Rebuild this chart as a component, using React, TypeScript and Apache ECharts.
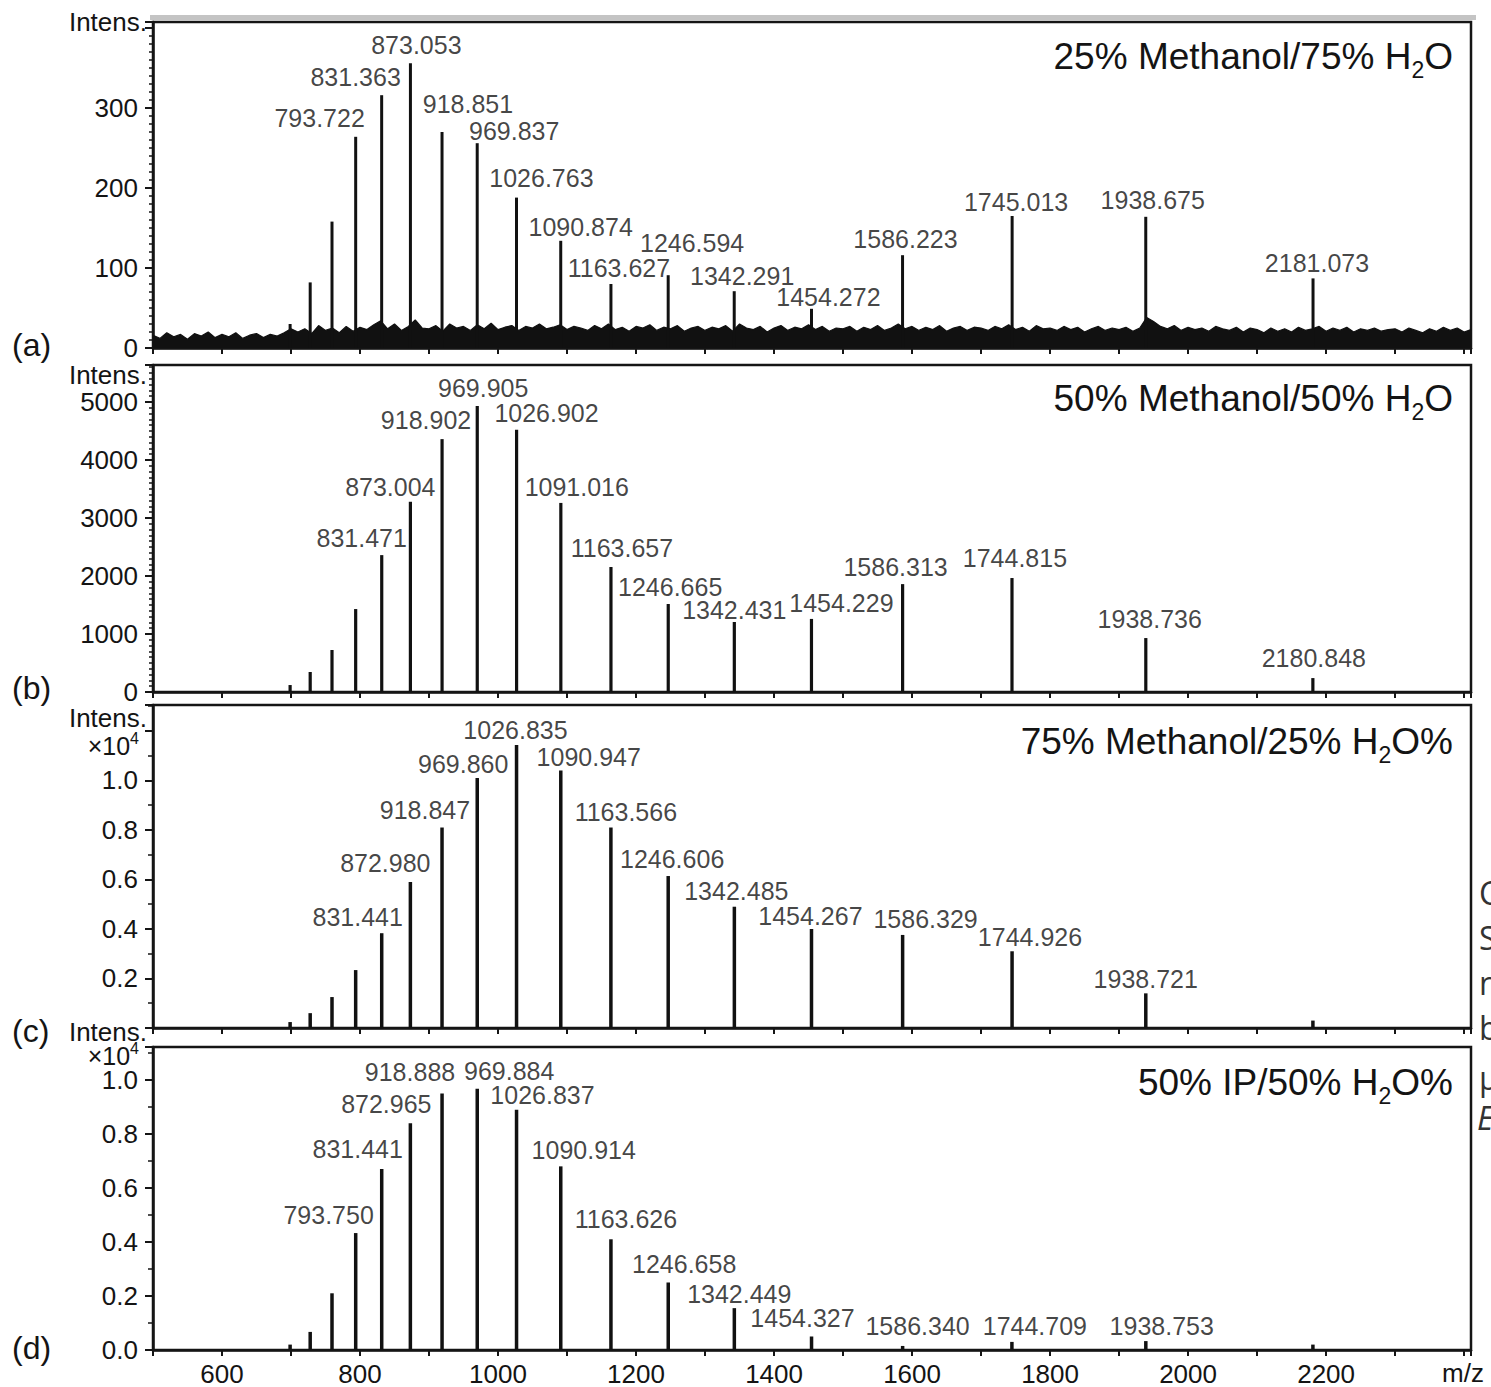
import React, { useEffect, useRef } from 'react';
import * as echarts from 'echarts';

const FONT = '"Liberation Sans", Arial, Helvetica, sans-serif';
const INK = '#141414';

// ---------- Panel (a): 25% Methanol / 75% H2O ----------
const peakMzA = [793.722, 831.363, 873.053, 918.851, 969.837, 1026.763, 1090.874, 1163.627, 1246.594, 1342.291, 1454.272, 1586.223, 1745.013, 1938.675, 2181.073];
const peakIntA = [264, 316, 356, 270, 256, 188, 134, 80, 91, 71, 49, 116, 165, 164, 87];
const minorMzA = [698.7, 727.8, 759.4];
const minorIntA = [30, 82, 158];
// baseline noise envelope of panel (a), sampled every 10 m/z from 500
const noiseA = [
  16, 12, 19, 14, 17, 11, 18, 15, 20, 13, 17, 14, 19, 12, 16, 18, 13, 17, 15, 19,
  24, 20, 24, 18, 28, 22, 25, 19, 27, 21, 26, 23, 29, 34, 24, 30, 22, 27, 35, 25,
  24, 28, 21, 30, 25, 27, 22, 29, 24, 31, 23, 26, 28, 22, 27, 25, 30, 24, 26, 29,
  23, 27, 25, 22, 28, 24, 30, 23, 26, 21, 27, 25, 29, 22, 26, 24, 28, 21, 25, 27,
  22, 26, 24, 28, 21, 30, 25, 23, 27, 20, 25, 28, 22, 26, 24, 29, 23, 27, 21, 25,
  24, 27, 21, 26, 23, 28, 22, 25, 30, 24, 27, 22, 26, 23, 28, 21, 25, 27, 22, 26,
  25, 22, 27, 24, 29, 23, 26, 21, 28, 24, 25, 22, 27, 23, 26, 20, 24, 27, 22, 25,
  23, 26, 21, 25, 38, 33, 27, 24, 28, 22, 26, 23, 25, 21, 27, 24, 22, 26, 20, 25,
  23, 19, 25, 21, 24, 20, 26, 22, 24, 27, 21, 25, 22, 26, 20, 24, 22, 25, 21, 23,
  24, 20, 25, 22, 19, 24, 21, 26, 22, 25, 20, 23,
];
const yLabelsA = ['0', '100', '200', '300'];

// ---------- Panel (b): 50% Methanol / 50% H2O ----------
const peakMzB = [831.471, 873.004, 918.902, 969.905, 1026.902, 1091.016, 1163.657, 1246.665, 1342.431, 1454.229, 1586.313, 1744.815, 1938.736, 2180.848];
const peakIntB = [2360, 3280, 4360, 4930, 4520, 3260, 2155, 1517, 1207, 1260, 1860, 1965, 930, 240];
const minorMzB = [698.7, 727.8, 759.4, 793.7];
const minorIntB = [120, 345, 724, 1430];
const yLabelsB = ['0', '1000', '2000', '3000', '4000', '5000'];

// ---------- Panel (c): 75% Methanol / 25% H2O (x10^4) ----------
const peakMzC = [831.441, 872.98, 918.847, 969.86, 1026.835, 1090.947, 1163.566, 1246.606, 1342.485, 1454.267, 1586.329, 1744.926, 1938.721];
const peakIntC = [0.383, 0.59, 0.81, 1.01, 1.143, 1.04, 0.81, 0.614, 0.49, 0.4, 0.376, 0.31, 0.14];
const minorMzC = [698.7, 727.8, 759.4, 793.7, 2180.9];
const minorIntC = [0.024, 0.06, 0.125, 0.234, 0.03];
const yLabelsC = ['0.2', '0.4', '0.6', '0.8', '1.0'];

// ---------- Panel (d): 50% IP / 50% H2O (x10^4) ----------
const peakMzD = [793.75, 831.441, 872.965, 918.888, 969.884, 1026.837, 1090.914, 1163.626, 1246.658, 1342.449, 1454.327, 1586.34, 1744.709, 1938.753];
const peakIntD = [0.433, 0.67, 0.84, 0.95, 0.967, 0.89, 0.68, 0.41, 0.25, 0.155, 0.05, 0.015, 0.03, 0.033];
const minorMzD = [698.7, 727.8, 759.4, 2180.9];
const minorIntD = [0.02, 0.067, 0.21, 0.02];
const yLabelsD = ['0.0', '0.2', '0.4', '0.6', '0.8', '1.0'];

const xTickLabels = ['600', '800', '1000', '1200', '1400', '1600', '1800', '2000', '2200'];

// label offsets (px) relative to the peak tops — layout only
const labelOffA = [[-36, -19], [-26, -18], [6, -18], [26, -28], [37, -12], [25, -20], [20, -14], [8, -16], [24, -32], [8, -15], [17, -12], [3, -16], [4, -14], [7, -17], [4, -15]];
const labelOffB = [[-20, -17], [-20, -15], [-16, -19], [6, -18], [30, -17], [16, -16], [11, -19], [2, -17], [0, -12], [30, -16], [-7, -17], [3, -20], [4, -19], [1, -20]];
const labelOffC = [[-24, -16], [-25, -19], [-17, -17], [-14, -14], [-1, -15], [28, -14], [15, -15], [4, -17], [2, -16], [-1, -13], [23, -16], [18, -14], [0, -14]];
const labelOffD = [[-27, -18], [-24, -20], [-24, -19], [-32, -21], [32, -18], [26, -15], [23, -16], [15, -20], [16, -18], [5, -14], [-9, -18], [15, -20], [23, -16], [16, -15]];

const X_MIN = 500;
const X_MAX = 2410;

const panels = [
  { mz: peakMzA, int: peakIntA, mMz: minorMzA, mInt: minorIntA, off: labelOffA, yLabels: yLabelsA, fmt: (v: number) => String(Math.round(v)),
    grid: { left: 153, top: 22, width: 1318, height: 326 }, ymax: 407.5, interval: 100, minorSplit: 10, barW: 3 },
  { mz: peakMzB, int: peakIntB, mMz: minorMzB, mInt: minorIntB, off: labelOffB, yLabels: yLabelsB, fmt: (v: number) => String(Math.round(v)),
    grid: { left: 153, top: 365, width: 1318, height: 327 }, ymax: 5638, interval: 1000, minorSplit: 10, barW: 3.2 },
  { mz: peakMzC, int: peakIntC, mMz: minorMzC, mInt: minorIntC, off: labelOffC, yLabels: yLabelsC, fmt: (v: number) => v.toFixed(1),
    grid: { left: 153, top: 705, width: 1318, height: 323 }, ymax: 1.305, interval: 0.2, minorSplit: 2, barW: 3.5 },
  { mz: peakMzD, int: peakIntD, mMz: minorMzD, mInt: minorIntD, off: labelOffD, yLabels: yLabelsD, fmt: (v: number) => v.toFixed(1),
    grid: { left: 153, top: 1047, width: 1318, height: 303 }, ymax: 1.122, interval: 0.2, minorSplit: 2, barW: 3.5 },
];

function richTitle(main1: string, main2: string) {
  return `{m|${main1}}{s|2}{m|${main2}}`;
}

export default function App() {
  const ref = useRef<HTMLDivElement>(null);

  useEffect(() => {
    if (!ref.current) return;
    const chart = echarts.init(ref.current, null, { renderer: 'svg' });

    const grids: any[] = [];
    const xAxes: any[] = [];
    const yAxes: any[] = [];
    const series: any[] = [];

    panels.forEach((p, i) => {
      grids.push({ ...p.grid, show: true, borderColor: '#151515', borderWidth: 2.5, backgroundColor: 'transparent' });
      xAxes.push({
        type: 'value', gridIndex: i, min: X_MIN, max: X_MAX, interval: 100,
        axisLine: { show: true, onZero: false, lineStyle: { color: '#151515', width: 2.5 } },
        axisTick: { show: true, inside: false, length: 6, lineStyle: { color: '#151515', width: 2 } },
        splitLine: { show: false },
        axisLabel: {
          show: i === 3, margin: 11, color: INK, fontFamily: FONT, fontSize: 26,
          formatter: (v: number) => (xTickLabels.includes(String(v)) ? String(v) : ''),
        },
      });
      yAxes.push({
        type: 'value', gridIndex: i, min: 0, max: p.ymax, interval: p.interval,
        axisLine: { show: true, lineStyle: { color: '#151515', width: 2.5 } },
        axisTick: { show: true, inside: false, length: 8, lineStyle: { color: '#151515', width: 2 } },
        minorTick: { show: true, splitNumber: p.minorSplit, length: p.minorSplit === 2 ? 5 : 4, lineStyle: { color: '#151515', width: 1.5 } },
        splitLine: { show: false },
        minorSplitLine: { show: false },
        axisLabel: {
          margin: 15, color: INK, fontFamily: FONT, fontSize: 26, lineHeight: 22,
          formatter: (v: number) => {
            const s = p.fmt(v);
            return p.yLabels.includes(s) && Math.abs(parseFloat(s) - v) < 1e-6 * Math.max(1, v) + 1e-9 ? s : '';
          },
        },
      });

      const bars = [
        ...p.mz.map((m, k) => [m, p.int[k]]),
        ...p.mMz.map((m, k) => [m, p.mInt[k]]),
      ].sort((a, b) => a[0] - b[0]);

      series.push({
        type: 'bar', xAxisIndex: i, yAxisIndex: i, data: bars, barWidth: p.barW,
        itemStyle: { color: '#111' }, z: 3, silent: true,
      });

      series.push({
        type: 'scatter', xAxisIndex: i, yAxisIndex: i, symbolSize: 0.1, z: 5, silent: true,
        itemStyle: { color: 'transparent' },
        data: p.mz.map((m, k) => ({
          value: [m, p.int[k]],
          label: {
            show: true, position: p.off[k], align: 'center', verticalAlign: 'middle',
            formatter: () => m.toFixed(3),
            color: INK, fontFamily: FONT, fontSize: 25, lineHeight: 22,
          },
        })),
      });
    });

    // baseline noise for panel (a)
    series.push({
      type: 'line', xAxisIndex: 0, yAxisIndex: 0, symbol: 'none', z: 2, silent: true,
      data: noiseA.map((v, k) => [X_MIN + 10 * k, v]),
      lineStyle: { color: '#111', width: 1.2 },
      areaStyle: { color: '#111', opacity: 1 },
    });

    const titleRich = {
      m: { fontSize: 37, lineHeight: 50, fontFamily: FONT, fill: INK, color: INK },
      s: { fontSize: 23, verticalAlign: 'bottom', fontFamily: FONT, fill: INK, color: INK },
    };
    const supRich = {
      m: { fontSize: 25, lineHeight: 32, fontFamily: FONT, fill: INK, color: INK },
      p: { fontSize: 16, verticalAlign: 'top', fontFamily: FONT, fill: INK, color: INK },
    };

    const txt = (text: string, x: number, y: number, size: number, align: string, extra: any = {}) => ({
      type: 'text', x, y, silent: true,
      style: { text, fill: INK, font: `${size}px ${FONT}`, align, verticalAlign: 'middle', lineHeight: 22, ...extra },
    });
    const capTxt = (text: string, x: number, y: number, italic = false) => ({
      type: 'text', x, y, silent: true,
      style: { text, fill: '#333', font: `${italic ? 'italic ' : ''}32px "Open Sans", sans-serif`, align: 'left', verticalAlign: 'middle' },
    });

    const graphic: any[] = [
      { type: 'rect', silent: true, shape: { x: 150, y: 15, width: 1326, height: 5 }, style: { fill: '#c4c4c4' } },
      txt('Intens.', 147, 22, 26, 'right'),
      txt('Intens.', 147, 375, 26, 'right'),
      txt('Intens.', 147, 718, 26, 'right'),
      txt('Intens.', 147, 1032, 26, 'right'),
      { type: 'text', x: 139, y: 746, silent: true, style: { text: '{m|×10}{p|4}', rich: supRich, align: 'right', verticalAlign: 'middle' } },
      { type: 'text', x: 139, y: 1056, silent: true, style: { text: '{m|×10}{p|4}', rich: supRich, align: 'right', verticalAlign: 'middle' } },
      txt('(a)', 12, 345, 32, 'left', { lineHeight: 30 }),
      txt('(b)', 12, 688, 32, 'left', { lineHeight: 30 }),
      txt('(c)', 12, 1031, 32, 'left', { lineHeight: 30 }),
      txt('(d)', 12, 1348, 32, 'left', { lineHeight: 30 }),
      { type: 'text', x: 1453, y: 56, silent: true, style: { text: richTitle('25% Methanol/75% H', 'O'), rich: titleRich, align: 'right', verticalAlign: 'middle' } },
      { type: 'text', x: 1453, y: 398, silent: true, style: { text: richTitle('50% Methanol/50% H', 'O'), rich: titleRich, align: 'right', verticalAlign: 'middle' } },
      { type: 'text', x: 1453, y: 741, silent: true, style: { text: richTitle('75% Methanol/25% H', 'O%'), rich: titleRich, align: 'right', verticalAlign: 'middle' } },
      { type: 'text', x: 1453, y: 1082, silent: true, style: { text: richTitle('50% IP/50% H', 'O%'), rich: titleRich, align: 'right', verticalAlign: 'middle' } },
      txt('m/z', 1463, 1373, 26, 'center'),
      // caption fragment of the neighbouring column, cut by the page edge (as in the reference)
      capTxt('C', 1479, 892),
      capTxt('S', 1479, 937),
      capTxt('n', 1479, 982),
      capTxt('b', 1479, 1027),
      capTxt('μ', 1479, 1077),
      capTxt('E', 1477, 1117, true),
    ];

    chart.setOption({
      animation: false,
      backgroundColor: '#ffffff',
      grid: grids,
      xAxis: xAxes,
      yAxis: yAxes,
      series,
      graphic,
    });

    return () => chart.dispose();
  }, []);

  return <div ref={ref} style={{ position: 'absolute', left: 0, top: 0, width: 1491, height: 1387 }} />;
}
